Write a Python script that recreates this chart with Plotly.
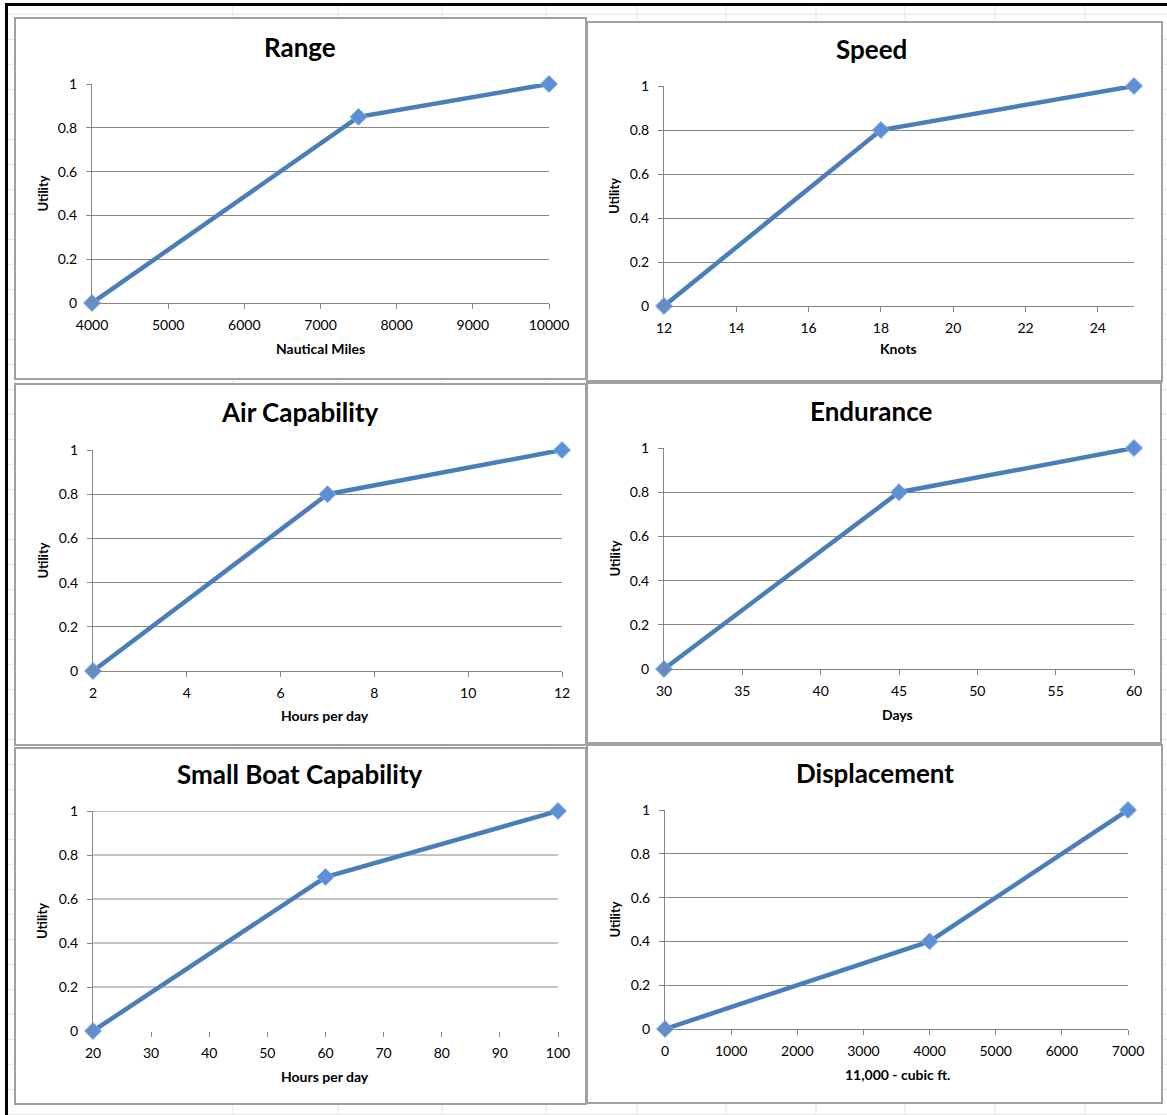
import plotly.graph_objects as go

# ---- data -------------------------------------------------------------
range_miles = [4000, 7500, 10000]
range_util = [0, 0.85, 1]

speed_knots = [12, 18, 25]
speed_util = [0, 0.8, 1]

air_hours = [2, 7, 12]
air_util = [0, 0.8, 1]

endurance_days = [30, 45, 60]
endurance_util = [0, 0.8, 1]

boat_hours = [20, 60, 100]
boat_util = [0, 0.7, 1]

displacement_cuft = [0, 4000, 7000]
displacement_util = [0, 0.4, 1]

range_ticks = [4000, 5000, 6000, 7000, 8000, 9000, 10000]
speed_ticks = [12, 14, 16, 18, 20, 22, 24]
air_ticks = [2, 4, 6, 8, 10, 12]
endurance_ticks = [30, 35, 40, 45, 50, 55, 60]
boat_ticks = [20, 30, 40, 50, 60, 70, 80, 90, 100]
displacement_ticks = [0, 1000, 2000, 3000, 4000, 5000, 6000, 7000]

utility_ticks = [0, 0.2, 0.4, 0.6, 0.8, 1]
utility_labels = ["0", "0.2", "0.4", "0.6", "0.8", "1"]

# ---- page geometry (pixels) --------------------------------------------
W, H = 1167, 1115


def fx(x):
    return x / W


def fy(y):
    return 1 - y / H


FONT = "Lato"
LINE_BLUE = "#4A7EBB"
MARK_BLUE = "#5C8FD6"
AXIS_GREY = "#868686"

panels = [
    dict(title="Range", xtitle="Nautical Miles", x=range_miles, y=range_util,
         ticks=range_ticks, xr=[4000, 10000],
         frame=(15, 18, 586, 379), plot=(92, 84, 549, 303),
         tpos=(300, 47), xtpos=(320, 348), ytx=42, xline=True),
    dict(title="Speed", xtitle="Knots", x=speed_knots, y=speed_util,
         ticks=speed_ticks, xr=[12, 25],
         frame=(587, 22, 1162, 381), plot=(664, 86, 1134, 306),
         tpos=(871, 49), xtpos=(898, 349), ytx=614, xline=True),
    dict(title="Air Capability", xtitle="Hours per day", x=air_hours, y=air_util,
         ticks=air_ticks, xr=[2, 12],
         frame=(15, 384, 586, 745), plot=(93, 450, 562, 671),
         tpos=(300, 412), xtpos=(325, 715), ytx=42, xline=True),
    dict(title="Endurance", xtitle="Days", x=endurance_days, y=endurance_util,
         ticks=endurance_ticks, xr=[30, 60],
         frame=(587, 383, 1161, 743), plot=(664, 448, 1134, 669),
         tpos=(871, 411), xtpos=(897, 714), ytx=614, xline=True),
    dict(title="Small Boat Capability", xtitle="Hours per day", x=boat_hours, y=boat_util,
         ticks=boat_ticks, xr=[20, 100],
         frame=(15, 748, 586, 1104), plot=(93, 811, 558, 1031),
         tpos=(300, 774), xtpos=(325, 1076), ytx=42, xline=False),
    dict(title="Displacement", xtitle="11,000 - cubic ft.", x=displacement_cuft, y=displacement_util,
         ticks=displacement_ticks, xr=[0, 7000],
         frame=(587, 745, 1162, 1103), plot=(665, 810, 1128, 1029),
         tpos=(875, 773), xtpos=(897, 1074), ytx=614, xline=True),
]

fig = go.Figure()
shapes = []
annotations = []

# faint worksheet cell grid behind the charts
for k in range(45):
    yy = 14.3 + 25 * k
    if yy < H:
        shapes.append(dict(type="line", xref="paper", yref="paper",
                           x0=fx(6), x1=1, y0=fy(yy), y1=fy(yy),
                           line=dict(color="#E3E3E3", width=1), layer="below"))
for xx in [233, 338, 442, 546, 637, 726, 816, 905, 995, 1085]:
    shapes.append(dict(type="line", xref="paper", yref="paper",
                       x0=fx(xx), x1=fx(xx), y0=0, y1=fy(6),
                       line=dict(color="#E3E3E3", width=1), layer="below"))

# heavy black edge along top and left
shapes.append(dict(type="line", xref="paper", yref="paper", x0=fx(5), x1=1,
                   y0=fy(4.5), y1=fy(4.5), line=dict(color="black", width=3)))
shapes.append(dict(type="line", xref="paper", yref="paper", x0=fx(6.5), x1=fx(6.5),
                   y0=0, y1=fy(3), line=dict(color="black", width=3)))

for i, p in enumerate(panels, start=1):
    xa = "x" if i == 1 else f"x{i}"
    ya = "y" if i == 1 else f"y{i}"
    x0, y0, x1, y1 = p["frame"]
    px0, py0, px1, py1 = p["plot"]

    # white chart area with grey border
    shapes.append(dict(type="rect", xref="paper", yref="paper",
                       x0=fx(x0), x1=fx(x1), y0=fy(y1), y1=fy(y0),
                       fillcolor="white", line=dict(color="#A0A0A0", width=2),
                       layer="below"))

    fig.add_trace(go.Scatter(
        x=p["x"], y=p["y"], xaxis=xa, yaxis=ya, mode="lines+markers",
        line=dict(color=LINE_BLUE, width=4.5),
        marker=dict(symbol="diamond", size=13, color=MARK_BLUE,
                    line=dict(color="#7FA8E0", width=1)),
        cliponaxis=False, showlegend=False, hoverinfo="x+y"))

    grid_on = p["xline"]
    fig.update_layout(**{
        ("xaxis" if i == 1 else f"xaxis{i}"): dict(
            domain=[fx(px0), fx(px1)], range=p["xr"], anchor=ya,
            tickmode="array", tickvals=p["ticks"],
            ticktext=[str(t) for t in p["ticks"]],
            showline=p["xline"], linecolor=AXIS_GREY, linewidth=1,
            ticks="outside", ticklen=5, tickcolor=AXIS_GREY, tickwidth=1,
            showgrid=False, zeroline=False, ticklabelstandoff=4, automargin=False,
            tickfont=dict(family=FONT, size=14, color="black"), fixedrange=True),
        ("yaxis" if i == 1 else f"yaxis{i}"): dict(
            domain=[fy(py1), fy(py0)], range=[0, 1], anchor=xa,
            tickmode="array", tickvals=utility_ticks, ticktext=utility_labels,
            showline=True, linecolor=AXIS_GREY, linewidth=1,
            ticks="outside", ticklen=5, tickcolor=AXIS_GREY, tickwidth=1,
            showgrid=grid_on, gridcolor=AXIS_GREY, gridwidth=1, zeroline=False,
            ticklabelstandoff=6, automargin=False,
            tickfont=dict(family=FONT, size=14, color="black"), fixedrange=True),
    })

    if not grid_on:
        # gridlines above the baseline only (this chart has no horizontal axis line)
        for v in utility_ticks[1:]:
            shapes.append(dict(type="line", xref=f"{xa} domain", yref=ya,
                               x0=0, x1=1, y0=v, y1=v,
                               line=dict(color=AXIS_GREY, width=1), layer="below"))

    annotations.append(dict(text=f"<b>{p['title']}</b>", xref="paper", yref="paper",
                            x=fx(p["tpos"][0]), y=fy(p["tpos"][1]),
                            xanchor="center", yanchor="middle", showarrow=False,
                            font=dict(family=FONT, size=26, color="black")))
    annotations.append(dict(text=f"<b>{p['xtitle']}</b>", xref="paper", yref="paper",
                            x=fx(p["xtpos"][0]), y=fy(p["xtpos"][1]),
                            xanchor="center", yanchor="middle", showarrow=False,
                            font=dict(family=FONT, size=14, color="black")))
    annotations.append(dict(text="<b>Utility</b>", xref="paper", yref="paper",
                            x=fx(p["ytx"]), y=fy((py0 + py1) / 2),
                            xanchor="center", yanchor="middle", showarrow=False,
                            textangle=-90,
                            font=dict(family=FONT, size=13, color="black")))

fig.update_layout(
    width=W, height=H, margin=dict(l=0, r=0, t=0, b=0, pad=0, autoexpand=False),
    paper_bgcolor="white", plot_bgcolor="rgba(0,0,0,0)",
    shapes=shapes, annotations=annotations, showlegend=False,
)

# drop the default page margin so the figure fills the window exactly
fig.write_html(
    "out.html",
    post_script="document.body.style.margin='0';document.body.style.overflow='hidden';",
)
